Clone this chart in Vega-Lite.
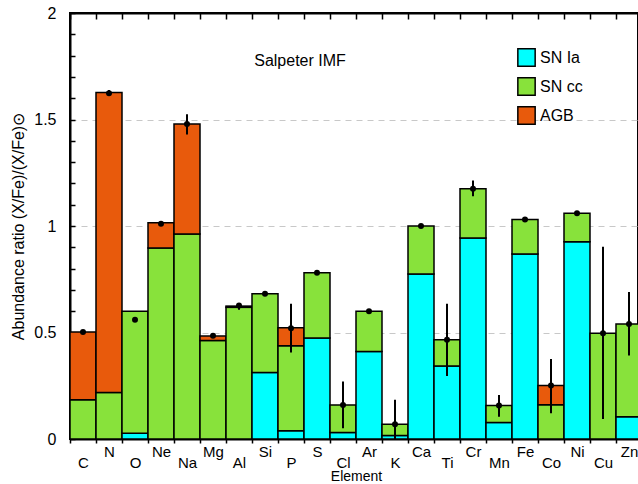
{
  "$schema": "https://vega.github.io/schema/vega-lite/v6.json",
  "autosize": "none",
  "width": 568,
  "height": 426,
  "padding": {"left": 70, "top": 13, "right": 0, "bottom": 45},
  "background": "white",
  "config": {
    "view": {"stroke": "black", "strokeWidth": 2},
    "font": "Liberation Sans"
  },
  "datasets": {
    "bars": [
      {"el": "C", "src": "SN cc", "v": 0.184}, {"el": "C", "src": "AGB", "v": 0.318},
      {"el": "N", "src": "SN cc", "v": 0.218}, {"el": "N", "src": "AGB", "v": 1.409},
      {"el": "O", "src": "SN Ia", "v": 0.027}, {"el": "O", "src": "SN cc", "v": 0.573},
      {"el": "Ne", "src": "SN cc", "v": 0.897}, {"el": "Ne", "src": "AGB", "v": 0.118},
      {"el": "Na", "src": "SN cc", "v": 0.963}, {"el": "Na", "src": "AGB", "v": 0.516},
      {"el": "Mg", "src": "SN cc", "v": 0.463}, {"el": "Mg", "src": "AGB", "v": 0.02},
      {"el": "Al", "src": "SN cc", "v": 0.618}, {"el": "Al", "src": "AGB", "v": 0.006},
      {"el": "Si", "src": "SN Ia", "v": 0.312}, {"el": "Si", "src": "SN cc", "v": 0.37},
      {"el": "P", "src": "SN Ia", "v": 0.039}, {"el": "P", "src": "SN cc", "v": 0.399}, {"el": "P", "src": "AGB", "v": 0.084},
      {"el": "S", "src": "SN Ia", "v": 0.474}, {"el": "S", "src": "SN cc", "v": 0.306},
      {"el": "Cl", "src": "SN Ia", "v": 0.031}, {"el": "Cl", "src": "SN cc", "v": 0.129},
      {"el": "Ar", "src": "SN Ia", "v": 0.411}, {"el": "Ar", "src": "SN cc", "v": 0.189},
      {"el": "K", "src": "SN Ia", "v": 0.017}, {"el": "K", "src": "SN cc", "v": 0.052},
      {"el": "Ca", "src": "SN Ia", "v": 0.775}, {"el": "Ca", "src": "SN cc", "v": 0.225},
      {"el": "Ti", "src": "SN Ia", "v": 0.343}, {"el": "Ti", "src": "SN cc", "v": 0.123},
      {"el": "Cr", "src": "SN Ia", "v": 0.944}, {"el": "Cr", "src": "SN cc", "v": 0.231},
      {"el": "Mn", "src": "SN Ia", "v": 0.077}, {"el": "Mn", "src": "SN cc", "v": 0.08},
      {"el": "Fe", "src": "SN Ia", "v": 0.869}, {"el": "Fe", "src": "SN cc", "v": 0.162},
      {"el": "Co", "src": "SN cc", "v": 0.161}, {"el": "Co", "src": "AGB", "v": 0.09},
      {"el": "Ni", "src": "SN Ia", "v": 0.926}, {"el": "Ni", "src": "SN cc", "v": 0.134},
      {"el": "Cu", "src": "SN cc", "v": 0.497},
      {"el": "Zn", "src": "SN Ia", "v": 0.105}, {"el": "Zn", "src": "SN cc", "v": 0.435}
    ],
    "obs": [
      {"el": "C", "obs": 0.502, "lo": 0.494, "hi": 0.51},
      {"el": "N", "obs": 1.623, "lo": 1.61, "hi": 1.638},
      {"el": "O", "obs": 0.56, "lo": 0.556, "hi": 0.564},
      {"el": "Ne", "obs": 1.01, "lo": 1.004, "hi": 1.016},
      {"el": "Na", "obs": 1.479, "lo": 1.43, "hi": 1.525},
      {"el": "Mg", "obs": 0.485, "lo": 0.476, "hi": 0.494},
      {"el": "Al", "obs": 0.627, "lo": 0.607, "hi": 0.639},
      {"el": "Si", "obs": 0.682, "lo": 0.676, "hi": 0.688},
      {"el": "P", "obs": 0.52, "lo": 0.406, "hi": 0.635},
      {"el": "S", "obs": 0.78, "lo": 0.775, "hi": 0.785},
      {"el": "Cl", "obs": 0.16, "lo": 0.05, "hi": 0.27},
      {"el": "Ar", "obs": 0.6, "lo": 0.595, "hi": 0.605},
      {"el": "K", "obs": 0.069, "lo": 0.0, "hi": 0.184},
      {"el": "Ca", "obs": 1.0, "lo": 0.995, "hi": 1.005},
      {"el": "Ti", "obs": 0.466, "lo": 0.296, "hi": 0.635},
      {"el": "Cr", "obs": 1.175, "lo": 1.14, "hi": 1.214},
      {"el": "Mn", "obs": 0.157, "lo": 0.105, "hi": 0.207},
      {"el": "Fe", "obs": 1.031, "lo": 1.026, "hi": 1.036},
      {"el": "Co", "obs": 0.251, "lo": 0.121, "hi": 0.376},
      {"el": "Ni", "obs": 1.06, "lo": 1.055, "hi": 1.065},
      {"el": "Cu", "obs": 0.497, "lo": 0.094, "hi": 0.902},
      {"el": "Zn", "obs": 0.54, "lo": 0.392, "hi": 0.69}
    ],
    "note": [{"el": "P", "y": 1.774, "label": "Salpeter IMF"}]
  },
  "resolve": {"axis": {"x": "independent", "y": "independent"}},
  "layer": [
    {
      "data": {"name": "bars"},
      "transform": [{"calculate": "indexof(['SN Ia','SN cc','AGB'], datum.src)", "as": "ord"}],
      "mark": {"type": "bar", "stroke": "black", "strokeWidth": 1.5, "clip": true},
      "encoding": {
        "x": {
          "field": "el", "type": "nominal", "sort": null,
          "scale": {"domain": ["C","N","O","Ne","Na","Mg","Al","Si","P","S","Cl","Ar","K","Ca","Ti","Cr","Mn","Fe","Co","Ni","Cu","Zn"], "range": [0, 572], "paddingInner": 0, "paddingOuter": 0},
          "axis": {
            "orient": "bottom", "title": "Element", "titleFontSize": 14, "titleFontWeight": "normal", "titleColor": "black", "titlePadding": -1,
            "labelAngle": 0, "labelFontSize": 15, "labelColor": "black",
            "labelPadding": {"condition": {"test": "indexof(['N','Ne','Mg','Si','S','Ar','Ca','Cr','Fe','Ni','Zn'], datum.value) >= 0", "value": 1}, "value": 12},
            "tickBand": "extent", "tickSize": 4, "tickColor": "black", "tickWidth": 1.5,
            "domainColor": "black", "domainWidth": 2, "grid": false
          }
        },
        "y": {
          "field": "v", "type": "quantitative", "stack": "zero",
          "scale": {"domain": [0, 2], "nice": false, "zero": true},
          "axis": {
            "orient": "left",
            "title": "Abundance ratio (X/Fe)/(X/Fe)⊙", "titleFontSize": 16, "titleFontWeight": "normal", "titleColor": "black", "titlePadding": 7,
            "values": [0,0.1,0.2,0.3,0.4,0.5,0.6,0.7,0.8,0.9,1,1.1,1.2,1.3,1.4,1.5,1.6,1.7,1.8,1.9,2],
            "labelExpr": "abs(datum.value*2 - round(datum.value*2)) < 0.001 ? format(datum.value, '~g') : ''",
            "labelFontSize": 16, "labelColor": "black", "labelPadding": 19,
            "tickSize": -5, "tickColor": "black", "tickWidth": 1.5,
            "domainColor": "black", "domainWidth": 2,
            "grid": true, "gridColor": "#c8c8c8", "gridDash": [6, 5], "gridWidth": 1,
            "gridOpacity": {"condition": {"test": "datum.value == 0.5 || datum.value == 1 || datum.value == 1.5", "value": 1}, "value": 0}
          }
        },
        "color": {
          "field": "src", "type": "nominal",
          "scale": {"domain": ["SN Ia", "SN cc", "AGB"], "range": ["#00ffff", "#88e23b", "#e85a0c"]},
          "legend": {
            "title": null, "orient": "none", "legendX": 447, "legendY": 35, "padding": 0,
            "symbolType": "square", "symbolSize": 300, "symbolStrokeColor": "black", "symbolStrokeWidth": 1.5, "symbolOpacity": 1,
            "labelFontSize": 16, "labelColor": "black", "labelOffset": 4, "rowPadding": 4
          }
        },
        "order": {"field": "ord", "type": "quantitative", "sort": "ascending"}
      }
    },
    {
      "data": {"name": "obs"},
      "mark": {"type": "rule", "color": "black", "strokeWidth": 2, "clip": true},
      "encoding": {
        "x": {"field": "el", "type": "nominal", "sort": null,
          "axis": {"orient": "top", "title": null, "labels": false, "tickBand": "extent", "tickSize": -6, "tickColor": "black", "tickWidth": 1.5, "domainColor": "black", "domainWidth": 2, "grid": false}},
        "y": {"field": "lo", "type": "quantitative", "axis": null},
        "y2": {"field": "hi"}
      }
    },
    {
      "data": {"name": "obs"},
      "mark": {"type": "circle", "color": "black", "opacity": 1, "size": 36, "clip": true},
      "encoding": {
        "x": {"field": "el", "type": "nominal", "sort": null, "axis": null},
        "y": {"field": "obs", "type": "quantitative", "axis": null}
      }
    },
    {
      "data": {"name": "note"},
      "mark": {"type": "text", "fontSize": 16, "color": "black", "dx": 9, "baseline": "middle", "align": "center"},
      "encoding": {
        "x": {"field": "el", "type": "nominal", "axis": null},
        "y": {"field": "y", "type": "quantitative", "axis": null},
        "text": {"field": "label"}
      }
    }
  ]
}
